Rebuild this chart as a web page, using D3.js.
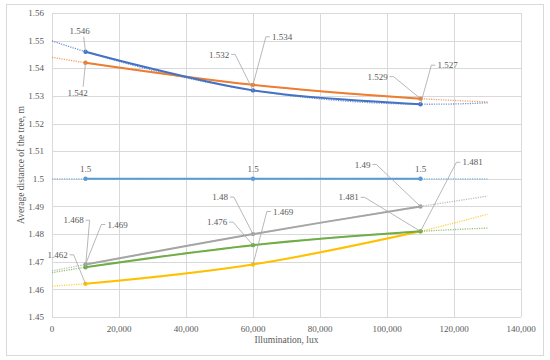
<!DOCTYPE html>
<html>
<head>
<meta charset="utf-8">
<script src="https://cdn.jsdelivr.net/npm/d3@7"></script>
<style>
  body { margin: 0; background: #fff; }
  text { font-family: "Liberation Serif", "DejaVu Serif", serif; fill: #595959; }
</style>
</head>
<body>
<svg id="chart" width="550" height="360"></svg>
<script>
// data
const illumination = [10000, 60000, 110000];
const seriesBlue = [1.546, 1.532, 1.527];
const seriesOrange = [1.542, 1.534, 1.529];
const seriesLightBlue = [1.5, 1.5, 1.5];
const seriesGray = [1.469, 1.48, 1.49];
const seriesYellow = [1.462, 1.469, 1.481];
const seriesGreen = [1.468, 1.476, 1.481];
const xTicks = [0, 20000, 40000, 60000, 80000, 100000, 120000, 140000];
const yTicks = [1.45, 1.46, 1.47, 1.48, 1.49, 1.5, 1.51, 1.52, 1.53, 1.54, 1.55, 1.56];

// series + colours, label offsets (label centre relative to point)
const series = [
  { values: seriesLightBlue, color: "#5B9BD5", off: [[0, -10], [0, -10], [0, -10]] },
  { values: seriesGray, color: "#A5A5A5", off: [[32, -40], [-33, -37], [-58, -42]] },
  { values: seriesYellow, color: "#FFC000", off: [[-28, -29], [30, -53], [52, -69]] },
  { values: seriesGreen, color: "#70AD47", off: [[-12, -47], [-36, -23], [-72, -34]] },
  { values: seriesOrange, color: "#ED7D31", off: [[-8, 30], [29, -48], [-43, -22]] },
  { values: seriesBlue, color: "#4472C4", off: [[-6, -21], [-34, -36], [27, -39]] }
];

const svg = d3.select("#chart");
const margin = { left: 52, right: 29, top: 13, bottom: 43 };
const W = 550, H = 360;

// chart border
svg.append("rect")
  .attr("x", 6.5).attr("y", 4.5)
  .attr("width", 537).attr("height", 351)
  .attr("fill", "#fff").attr("stroke", "#d9d9d9");

const x = d3.scaleLinear().domain([0, 140000]).range([margin.left, W - margin.right]);
const y = d3.scaleLinear().domain([1.45, 1.56]).range([H - margin.bottom, margin.top]);

// grid
svg.append("g").selectAll("line").data(yTicks).enter().append("line")
  .attr("x1", x(0)).attr("x2", x(140000))
  .attr("y1", d => Math.round(y(d)) + 0.5).attr("y2", d => Math.round(y(d)) + 0.5)
  .attr("stroke", "#d9d9d9");
svg.append("g").selectAll("line").data(xTicks).enter().append("line")
  .attr("y1", y(1.45)).attr("y2", y(1.56))
  .attr("x1", d => Math.round(x(d)) + 0.5).attr("x2", d => Math.round(x(d)) + 0.5)
  .attr("stroke", "#d9d9d9");

// tick labels
svg.append("g").selectAll("text").data(yTicks).enter().append("text")
  .attr("x", margin.left - 8).attr("y", d => y(d)).attr("dy", "0.35em")
  .attr("text-anchor", "end").style("font-size", "9px")
  .text(d => String(+d.toFixed(2)));
svg.append("g").selectAll("text").data(xTicks).enter().append("text")
  .attr("x", d => x(d)).attr("y", y(1.45) + 15)
  .attr("text-anchor", "middle").style("font-size", "9px")
  .text(d => d3.format(",")(d));

// axis titles
svg.append("text")
  .attr("x", x(70000)).attr("y", 343)
  .attr("text-anchor", "middle").style("font-size", "9.5px")
  .text("Illumination,  lux");
svg.append("text")
  .attr("transform", `translate(24,${(y(1.45) + y(1.56)) / 2}) rotate(-90)`)
  .attr("text-anchor", "middle").style("font-size", "9.5px")
  .text("Average  distance of the tree, m");

// quadratic least-squares trendline
function polyfit2(xs, ys) {
  const s = k => d3.sum(xs, v => Math.pow(v, k));
  const t = k => d3.sum(xs, (v, i) => Math.pow(v, k) * ys[i]);
  const A = [[s(0), s(1), s(2)], [s(1), s(2), s(3)], [s(2), s(3), s(4)]];
  const b = [t(0), t(1), t(2)];
  // gaussian elimination
  for (let i = 0; i < 3; i++) {
    for (let j = i + 1; j < 3; j++) {
      const f = A[j][i] / A[i][i];
      for (let k = i; k < 3; k++) A[j][k] -= f * A[i][k];
      b[j] -= f * b[i];
    }
  }
  const c = [0, 0, 0];
  for (let i = 2; i >= 0; i--) {
    let sum = b[i];
    for (let k = i + 1; k < 3; k++) sum -= A[i][k] * c[k];
    c[i] = sum / A[i][i];
  }
  return v => c[0] + c[1] * v + c[2] * v * v;
}

const trendX = d3.range(0, 130001, 2500);
const lineFn = d3.line().x(d => x(d[0])).y(d => y(d[1]));

series.forEach(s => {
  const xs = illumination.map(v => v / 10000);
  const f = polyfit2(xs, s.values);
  svg.append("path")
    .datum(trendX.map(v => [v, f(v / 10000)]))
    .attr("d", lineFn)
    .attr("fill", "none")
    .attr("stroke", s.color)
    .attr("stroke-width", 1.3)
    .attr("stroke-dasharray", "1.2,1.2")
    .attr("opacity", 0.75);
});

const smooth = d3.line().x(d => x(d[0])).y(d => y(d[1])).curve(d3.curveCatmullRom.alpha(0.5));
series.forEach(s => {
  const pts = illumination.map((v, i) => [v, s.values[i]]);
  svg.append("path")
    .datum(pts)
    .attr("d", smooth)
    .attr("fill", "none")
    .attr("stroke", s.color)
    .attr("stroke-width", 2);
  svg.append("g").selectAll("circle").data(pts).enter().append("circle")
    .attr("cx", d => x(d[0])).attr("cy", d => y(d[1]))
    .attr("r", 2.2).attr("fill", s.color);
});

// data labels with leader lines
const labels = svg.append("g");
series.forEach(s => {
  illumination.forEach((v, i) => {
    const px = x(v), py = y(s.values[i]);
    const [dx, dy] = s.off[i];
    const lx = px + dx, ly = py + dy;
    const txt = String(s.values[i]);
    const t = labels.append("text")
      .attr("x", lx).attr("y", ly).attr("dy", "0.35em")
      .attr("text-anchor", "middle").style("font-size", "9px")
      .text(txt);
    const w = t.node().getComputedTextLength();
    if (Math.hypot(dx, dy) < 15) return;
    let pts;
    if (Math.abs(dx) < 12) {
      const sy = dy < 0 ? ly + 6 : ly - 6;
      pts = [[px + dx * 0.3, sy], [px, py]];
    } else {
      const sx = dx < 0 ? lx + w / 2 + 2 : lx - w / 2 - 2;
      const hx = dx < 0 ? sx + 4 : sx - 4;
      pts = [[sx, ly], [hx, ly], [px, py]];
    }
    svg.insert("polyline", "g:last-of-type")
      .attr("points", pts.map(p => p.join(",")).join(" "))
      .attr("fill", "none").attr("stroke", "#a6a6a6").attr("stroke-width", 0.8);
  });
});
</script>
</body>
</html>
